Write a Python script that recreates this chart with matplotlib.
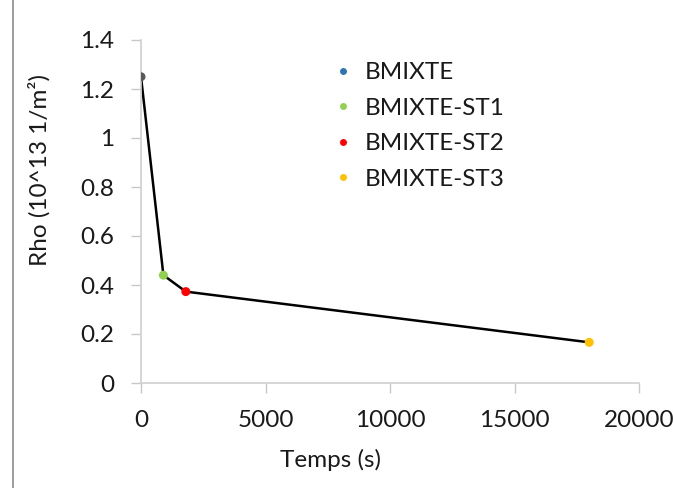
import matplotlib
matplotlib.use("Agg")
import matplotlib.pyplot as plt
from matplotlib.patches import Rectangle
from matplotlib.lines import Line2D

series = ["BMIXTE", "BMIXTE-ST1", "BMIXTE-ST2", "BMIXTE-ST3"]
temps = [0, 900, 1800, 18000]
rho = [1.25, 0.44, 0.373, 0.166]
legend_colors = ["#2e75b6", "#92d050", "#ff0000", "#ffc000"]
point_colors = ["#595959", "#92d050", "#ff0000", "#ffc000"]
xticks = [0, 5000, 10000, 15000, 20000]
yticks = [0, 0.2, 0.4, 0.6, 0.8, 1, 1.2, 1.4]
ytick_labels = ["0", "0.2", "0.4", "0.6", "0.8", "1", "1.2", "1.4"]

plt.rcParams['font.family'] = ['Lato', 'DejaVu Sans']
FS = 17.5

W, H = 673, 488
fig = plt.figure(figsize=(W / 100, H / 100), dpi=100)
ax = fig.add_axes([141 / W, 1 - 383 / H, (639 - 141) / W, (383 - 40) / H])

ax.plot(temps, rho, color="black", lw=1.8, zorder=2)
for t, r, c in zip(temps, rho, point_colors):
    ax.scatter([t], [r], s=42, color=c, zorder=3, edgecolors="none")

ax.set_xlim(0, 20000)
ax.set_ylim(0, 1.4)
ax.set_xticks(xticks)
ax.set_xticklabels([str(v) for v in xticks])
ax.set_yticks(yticks)
ax.set_yticklabels(ytick_labels)

for s in ["top", "right"]:
    ax.spines[s].set_visible(False)
for s in ["left", "bottom"]:
    ax.spines[s].set_color("#d0d0d0")
    ax.spines[s].set_linewidth(1.2)
ax.tick_params(axis="both", direction="out", length=7.2, width=1.0,
               color="#c8c8c8", labelsize=FS, labelcolor="#1a1a1a")
ax.tick_params(axis="y", pad=12)
ax.tick_params(axis="x", pad=12)

ax.set_xlabel("Temps (s)", fontsize=FS, color="#1a1a1a")
ax.set_ylabel("Rho (10^13 1/m²)", fontsize=FS, color="#1a1a1a")
ax.xaxis.set_label_coords((330 - 141) / 498, (383 - 449) / 343)
ax.yaxis.set_label_coords((51 - 141) / 498, (383 - 170) / 343)

handles = [Line2D([], [], ls="none", marker="o", markersize=5,
                  markerfacecolor=c, markeredgecolor="none") for c in legend_colors]
ax.legend(handles, series, loc="upper left",
          bbox_to_anchor=((334 - 141) / 498, (383 - 62) / 343),
          frameon=False, fontsize=FS, handlelength=0.7, handletextpad=0.55,
          labelspacing=0.6, borderaxespad=0, borderpad=0,
          labelcolor="#1a1a1a")

fig.add_artist(Rectangle((12.5 / W, -0.2), 1.5, 1.2 + (1 - 10 / H),
                         transform=fig.transFigure, fill=False,
                         edgecolor="#8c8c8c", lw=1.2))

fig.savefig("out.png", dpi=100, facecolor="white")
